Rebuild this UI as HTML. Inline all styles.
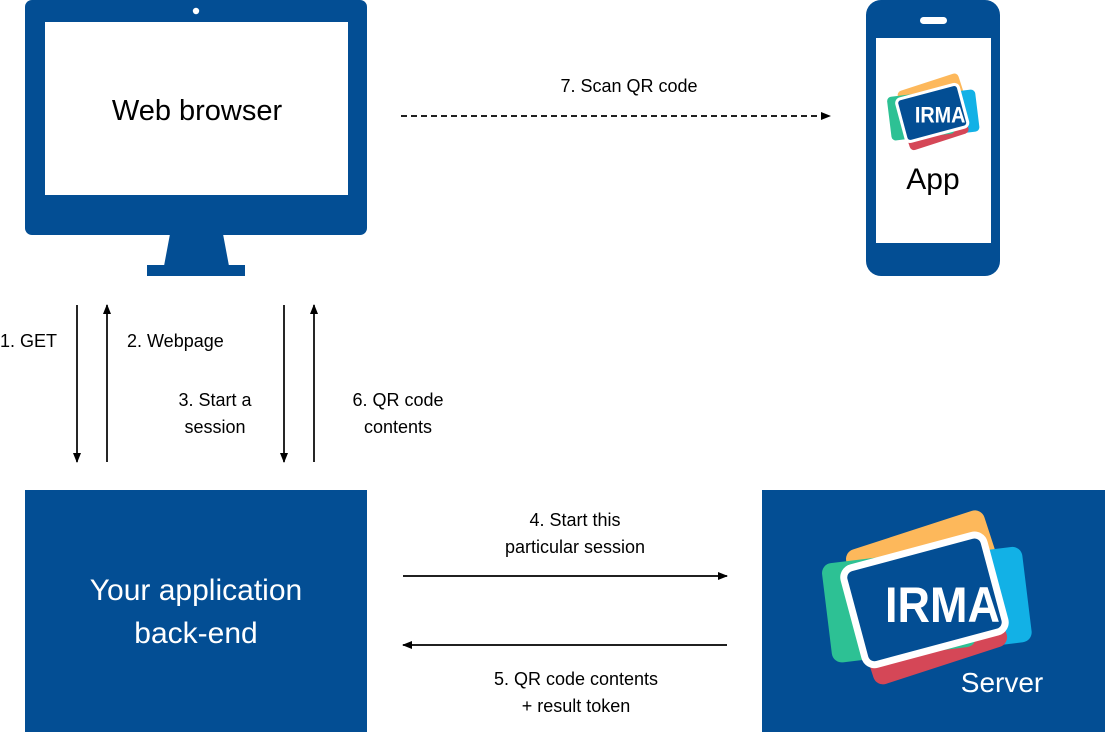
<!DOCTYPE html>
<html><head><meta charset="utf-8"><style>html,body{margin:0;padding:0;background:#fff}svg{display:block}</style></head>
<body>
<svg width="1105" height="732" viewBox="0 0 1105 732" xmlns="http://www.w3.org/2000/svg" font-family="Liberation Sans, sans-serif">
<defs>
<marker id="ah" markerWidth="10" markerHeight="10" refX="9" refY="5" orient="auto" markerUnits="userSpaceOnUse">
<path d="M0,1 L10,5 L0,9 Z" fill="#000"/></marker>
<g id="logo">
  <g transform="rotate(-15)">
    <rect x="-62" y="-70" width="145" height="100" rx="10" fill="#FDB85B" transform="rotate(-3)"/>
    <rect x="-45" y="-42" width="148" height="96" rx="10" fill="#12B1E6" transform="rotate(8)"/>
    <rect x="-72" y="-28" width="140" height="96" rx="10" fill="#D54757" transform="rotate(-3)"/>
    <rect x="-98" y="-48" width="145" height="100" rx="10" fill="#2DC194" transform="rotate(8)"/>
    <rect x="-72" y="-50" width="145" height="100" rx="10" fill="#034E94" stroke="#fff" stroke-width="7"/>
  </g>
  <text x="-39" y="22" font-size="50" font-weight="600" fill="#fff" textLength="115" lengthAdjust="spacingAndGlyphs">IRMA</text>
</g>
</defs>

<rect x="25" y="0" width="342" height="235" rx="7" fill="#034E94"/>
<rect x="45" y="22" width="303" height="173" fill="#fff"/>
<circle cx="196" cy="11" r="3.2" fill="#fff"/>
<path d="M170,234 L223,234 L229,266 L164,266 Z" fill="#034E94"/>
<rect x="147" y="265" width="98" height="11" fill="#034E94"/>
<text x="197" y="120" font-size="29" text-anchor="middle" fill="#000">Web browser</text>

<rect x="866" y="0" width="134" height="276" rx="15" fill="#034E94"/>
<rect x="876" y="38" width="115" height="205" fill="#fff"/>
<rect x="920" y="17" width="27" height="7" rx="3.5" fill="#fff"/>
<use href="#logo" transform="translate(932,113) scale(0.44)"/>
<text x="933" y="189" font-size="30" text-anchor="middle" fill="#000">App</text>

<line x1="401" y1="116" x2="830" y2="116" stroke="#000" stroke-width="1.8" stroke-dasharray="6,4" marker-end="url(#ah)"/>
<text x="629" y="92" font-size="18" text-anchor="middle" fill="#000">7. Scan QR code</text>

<line x1="77" y1="305" x2="77" y2="462" stroke="#000" stroke-width="1.7" marker-end="url(#ah)"/>
<line x1="107" y1="462" x2="107" y2="305" stroke="#000" stroke-width="1.7" marker-end="url(#ah)"/>
<line x1="284" y1="305" x2="284" y2="462" stroke="#000" stroke-width="1.7" marker-end="url(#ah)"/>
<line x1="314" y1="462" x2="314" y2="305" stroke="#000" stroke-width="1.7" marker-end="url(#ah)"/>
<g font-size="18" fill="#000">
<text x="0" y="347">1. GET</text>
<text x="127" y="347">2. Webpage</text>
<text x="215" y="406" text-anchor="middle">3. Start a</text>
<text x="215" y="433" text-anchor="middle">session</text>
<text x="398" y="406" text-anchor="middle">6. QR code</text>
<text x="398" y="433" text-anchor="middle">contents</text>
<text x="575" y="526" text-anchor="middle">4. Start this</text>
<text x="575" y="553" text-anchor="middle">particular session</text>
<text x="576" y="685" text-anchor="middle">5. QR code contents</text>
<text x="576" y="712" text-anchor="middle">+ result token</text>
</g>

<rect x="25" y="490" width="342" height="242" fill="#034E94"/>
<text x="196" y="600" font-size="30" text-anchor="middle" fill="#fff">Your application</text>
<text x="196" y="643" font-size="30" text-anchor="middle" fill="#fff">back-end</text>

<line x1="403" y1="576" x2="727" y2="576" stroke="#000" stroke-width="1.7" marker-end="url(#ah)"/>
<line x1="727" y1="645" x2="403" y2="645" stroke="#000" stroke-width="1.7" marker-end="url(#ah)"/>

<rect x="762" y="490" width="343" height="242" fill="#034E94"/>
<use href="#logo" transform="translate(924,600)"/>
<text x="1002" y="692" font-size="28" text-anchor="middle" fill="#fff">Server</text>
</svg>
</body></html>
